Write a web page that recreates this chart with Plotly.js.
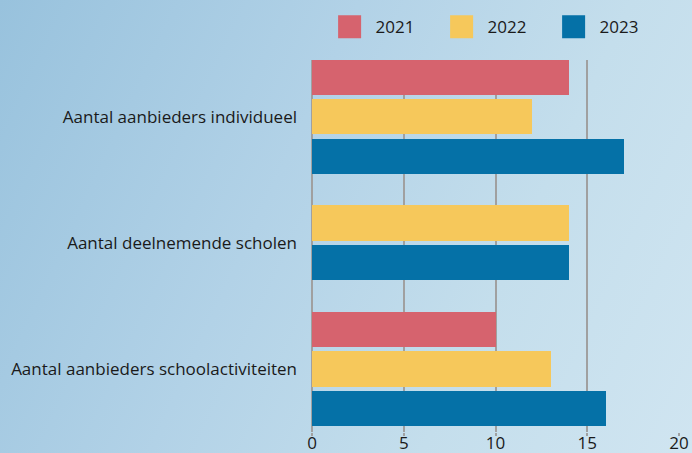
<!DOCTYPE html>
<html>
<head>
<meta charset="utf-8">
<script src="https://cdn.plot.ly/plotly-3.0.1.min.js"></script>
<style>
  html, body { margin: 0; padding: 0; width: 692px; height: 453px; overflow: hidden; }
  body { background: linear-gradient(115deg, #98c2dd 0%, #b2d2e7 40%, #c4deec 70%, #d0e5f1 100%); }
  #chart { width: 692px; height: 453px; }
</style>
</head>
<body>
<div id="chart"></div>
<script>
// ---- data ----
const categories = ['Aantal aanbieders individueel', 'Aantal deelnemende scholen', 'Aantal aanbieders schoolactiviteiten'];
const seriesNames = ['2021', '2022', '2023'];
const values2021 = [14, null, 10];
const values2022 = [12, 14, 13];
const values2023 = [17, 14, 16];
const xTicks = [0, 5, 10, 15, 20];

const seriesValues = [values2021, values2022, values2023];
const colors = ['#d6636e', '#f6c85b', '#0571a7'];

// bars within a category are packed and centred (missing series leave no gap)
const step = 0.317, barWidth = 0.278;
const traces = seriesNames.map((name, s) => {
  const ys = [], xs = [];
  categories.forEach((c, i) => {
    const present = seriesValues.map((v, k) => v[i] != null ? k : -1).filter(k => k >= 0);
    const idx = present.indexOf(s);
    if (idx < 0) return;
    ys.push(i + (idx - (present.length - 1) / 2) * step);
    xs.push(seriesValues[s][i]);
  });
  return {
    type: 'bar', orientation: 'h', name: name,
    x: xs, y: ys, width: barWidth,
    marker: { color: colors[s], line: { width: 0 } },
    hoverinfo: 'skip'
  };
});

const font = '"Open Sans", Lato, sans-serif';
const layout = {
  width: 692, height: 453,
  paper_bgcolor: 'rgba(0,0,0,0)', plot_bgcolor: 'rgba(0,0,0,0)',
  margin: { l: 312, r: 13, t: 60, b: 21, autoexpand: false },
  font: { family: font, size: 17, color: '#1a1a1a' },
  showlegend: true,
  legend: {
    orientation: 'h', x: 0.048, xanchor: 'left', y: 1.088, yanchor: 'middle',
    font: { family: font, size: 17, color: '#1a1a1a' },
    entrywidth: 67, traceorder: 'normal', bgcolor: 'rgba(0,0,0,0)'
  },
  xaxis: {
    range: [0, 20], tickvals: xTicks, ticktext: xTicks.map(String),
    showgrid: true, gridcolor: '#a0a0a0', gridwidth: 2,
    zeroline: true, zerolinecolor: '#a0a0a0', zerolinewidth: 2,
    ticks: 'outside', ticklen: 3, tickcolor: '#a0a0a0', tickwidth: 2,
    showline: false, fixedrange: true, automargin: false,
    tickfont: { family: font, size: 17, color: '#1a1a1a' }
  },
  yaxis: {
    range: [2.5, -0.452], autorange: false,
    tickvals: categories.map((c, i) => i), ticktext: categories,
    showgrid: false, zeroline: false, showline: false, ticks: '',
    ticklabelstandoff: 14, fixedrange: true, automargin: false,
    tickfont: { family: font, size: 17, color: '#1a1a1a' }
  },
  bargap: 0
};

Plotly.newPlot('chart', traces, layout, { staticPlot: true, displayModeBar: false }).then(() => {
  document.querySelectorAll('#chart .legend .legendpoints path').forEach(p => {
    p.setAttribute('d', 'M11.5,11.5H-11.5V-11.5H11.5Z');
  });
  document.querySelectorAll('#chart .legend text.legendtext').forEach(t => {
    t.setAttribute('x', parseFloat(t.getAttribute('x') || 0) + 6);
  });
  document.querySelectorAll('#chart .xtick text').forEach(t => {
    t.setAttribute('y', parseFloat(t.getAttribute('y') || 0) - 7);
  });
});
</script>
</body>
</html>
